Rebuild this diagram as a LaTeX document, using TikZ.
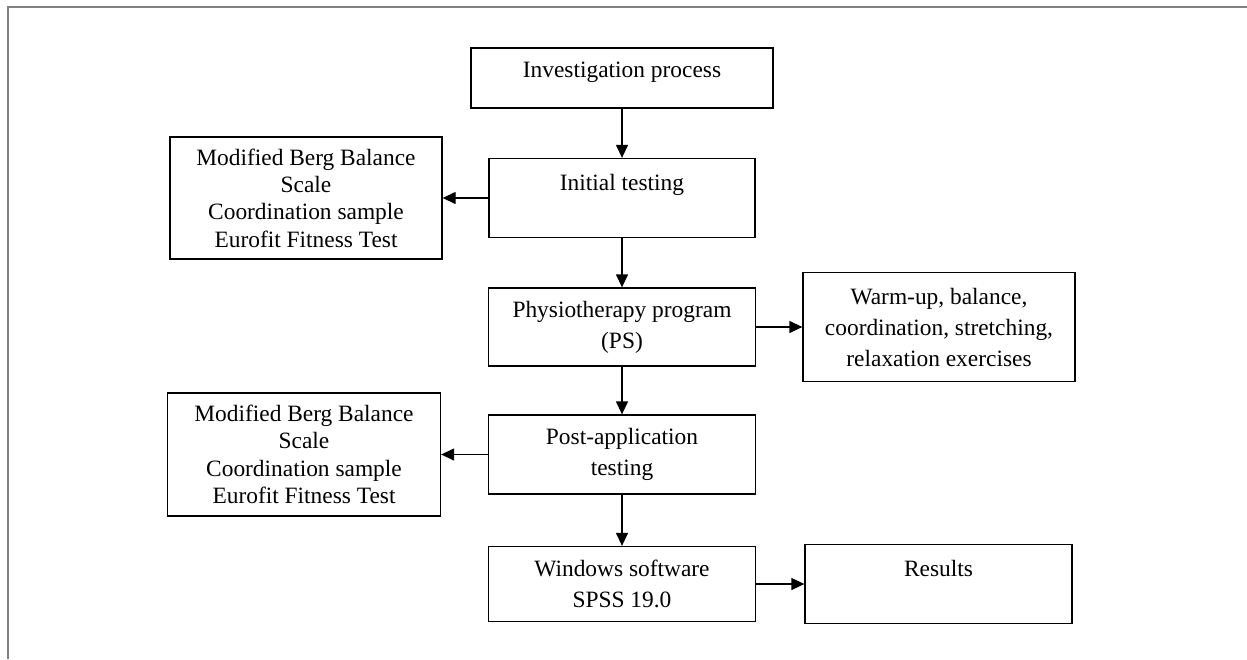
\documentclass[tikz,border=0pt]{standalone}
\usepackage{fontspec}
\setmainfont{Liberation Serif}
\usetikzlibrary{arrows.meta}

\begin{document}
\begin{tikzpicture}
						[x=0.5pt,y=-0.5pt,
						box/.style={rectangle,draw=black,line width=0.65pt,inner sep=0pt,align=center,font=\fontsize{11.7pt}{15.5pt}\selectfont},
						tight/.style={font=\fontsize{11.7pt}{13.7pt}\selectfont},
						arr/.style={-{Triangle[length=6.5pt,width=6pt]},line width=0.65pt}]
					\useasboundingbox (0,0) rectangle (1247,659);
					\draw[gray,line width=1pt] (8,659) -- (8,7) -- (1247,7);
					\node[box,minimum width=151pt,minimum height=30pt] (inv) at (622,78) {\raisebox{3pt}[\height][\depth]{Investigation process}};
					\node[box,minimum width=133pt,minimum height=39.5pt] (init) at (622,198) {Initial testing\\~};
					\node[box,tight,minimum width=136pt,minimum height=61pt] (bergA) at (306,198) {Modified Berg Balance\\Scale\\Coordination sample\\Eurofit Fitness Test};
					\node[box,minimum width=133.5pt,minimum height=39pt] (phys) at (622,327) {Physiotherapy program\\(PS)};
					\node[box,minimum width=136pt,minimum height=54.5pt] (warm) at (939,327) {Warm-up, balance,\\coordination, stretching,\\relaxation exercises};
					\node[box,minimum width=133.5pt,minimum height=39.5pt] (post) at (622,454.5) {Post-application\\testing};
					\node[box,tight,minimum width=136.5pt,minimum height=61.5pt] (bergB) at (304,454.5) {Modified Berg Balance\\Scale\\Coordination sample\\Eurofit Fitness Test};
					\node[box,minimum width=133.5pt,minimum height=37.5pt] (win) at (622,584) {Windows software\\SPSS 19.0};
					\node[box,minimum width=133.5pt,minimum height=39.5pt] (res) at (938.5,584) {Results\\~};
					\path (inv) edge[arr] (init);
					\path (init) edge[arr] (bergA);
					\path (init) edge[arr] (phys);
					\path (phys) edge[arr] (warm);
					\path (phys) edge[arr] (post);
					\path (post) edge[arr] (bergB);
					\path (post) edge[arr] (win);
					\path (win) edge[arr] (res);
				\end{tikzpicture}
\end{document}
